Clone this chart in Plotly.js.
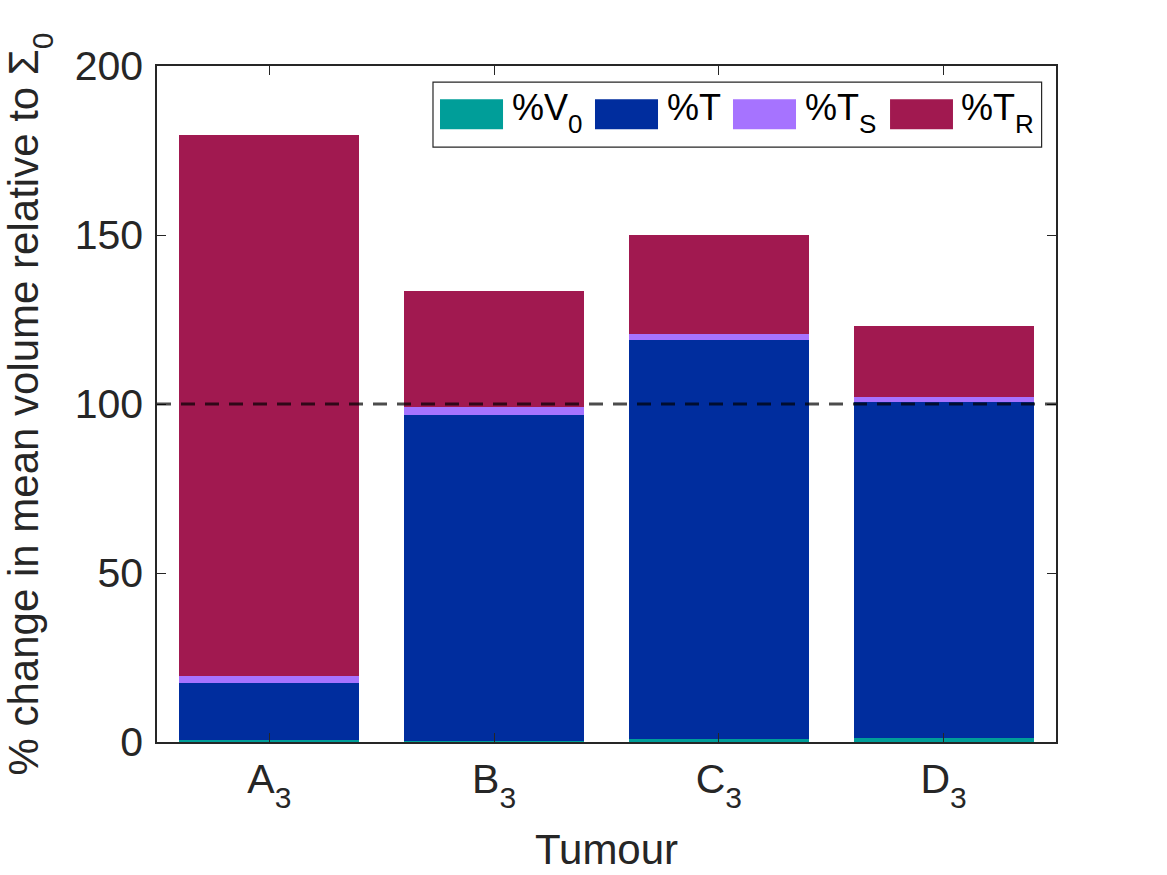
<!DOCTYPE html>
<html>
<head>
<meta charset="utf-8">
<script src="https://cdn.plot.ly/plotly-3.0.1.min.js"></script>
<style>
  html, body { margin: 0; padding: 0; background: #fff; }
  #chart { width: 1167px; height: 875px; }
</style>
</head>
<body>
<div id="chart"></div>
<script>
// deeper, larger subscript than plain <sub> (closer to the TeX look)
const sub = (s, px) => `<sub><sub><span style="font-size:${px}px">${s}</span></sub></sub>`;

// tumour labels on the x axis
const tumours = [1, 2, 3, 4];
const tumourLabels = ["A" + sub("3", 30), "B" + sub("3", 30), "C" + sub("3", 30), "D" + sub("3", 30)];

// stacked segments (% of Sigma_0), bottom to top
const pctV0 = [0.6, 0.4, 0.9, 1.2];
const pctT  = [16.8, 96.4, 117.9, 99.4];
const pctTS = [2.0, 2.3, 2.0, 1.5];
const pctTR = [160.2, 34.2, 29.1, 20.9];

const seriesNames = ["%V" + sub("0", 26), "%T", "%T" + sub("S", 26), "%T" + sub("R", 26)];
const seriesColors = ["rgb(0,158,153)", "rgb(0,45,158)", "rgb(166,115,255)", "rgb(161,25,80)"];

const refLevel = 100;
const yTicks = [0, 50, 100, 150, 200];

const fontFamily = "Liberation Sans, Arial, Helvetica, sans-serif";
const textColor = "#262626";

const makeBar = (y, idx) => {
    return {
        x: tumours,
        y: y,
        type: 'bar',
        name: seriesNames[idx],
        marker: { color: seriesColors[idx], line: { width: 0 } },
        hoverinfo: 'y'
    }
}

const data = [pctV0, pctT, pctTS, pctTR].map(makeBar);

// legend drawn by hand so the swatches are as big as in the original
const legendSwatchX = [[0.3148, 0.3849], [0.4872, 0.5573], [0.6407, 0.7108], [0.8154, 0.8854]];
const legendTextX = [0.393, 0.565, 0.719, 0.892];

const shapes = [
    {
        type: 'line', xref: 'paper', yref: 'y',
        x0: 0, x1: 1, y0: refLevel, y1: refLevel,
        line: { color: 'rgba(0,0,0,0.7)', width: 3, dash: '14px,10px' }
    },
    {
        type: 'rect', xref: 'paper', yref: 'paper',
        x0: 0.307, x1: 0.984, y0: 0.880, y1: 0.976,
        fillcolor: '#FFFFFF', line: { color: '#262626', width: 1.2 }
    }
];

const annotations = [];

seriesNames.forEach((name, i) => {
    shapes.push({
        type: 'rect', xref: 'paper', yref: 'paper',
        x0: legendSwatchX[i][0], x1: legendSwatchX[i][1], y0: 0.9065, y1: 0.9508,
        fillcolor: seriesColors[i], line: { width: 0 }
    });
    annotations.push({
        xref: 'paper', yref: 'paper',
        x: legendTextX[i], y: 0.972,
        xanchor: 'left', yanchor: 'top',
        text: name, showarrow: false,
        font: { family: fontFamily, size: 36, color: '#000000' }
    });
});

const layout = {
    width: 1167,
    height: 875,
    margin: { l: 157, r: 111, t: 66, b: 132.5 },
    paper_bgcolor: '#FFFFFF',
    plot_bgcolor: '#FFFFFF',
    barmode: 'stack',
    bargap: 0.2,
    showlegend: false,
    font: { family: fontFamily, color: textColor },
    xaxis: {
        range: [0.5, 4.5],
        tickvals: tumours,
        ticktext: tumourLabels,
        ticks: 'inside',
        ticklen: 9,
        tickwidth: 1.2,
        tickcolor: '#262626',
        showline: true,
        linecolor: '#262626',
        linewidth: 1.5,
        mirror: 'ticks',
        showgrid: false,
        zeroline: false,
        tickfont: { size: 41, color: textColor },
        title: { text: 'Tumour', font: { size: 42, color: textColor }, standoff: 22 }
    },
    yaxis: {
        range: [0, 200],
        tickvals: yTicks,
        ticks: 'inside',
        ticklen: 9,
        tickwidth: 1.2,
        tickcolor: '#262626',
        showline: true,
        linecolor: '#262626',
        linewidth: 1.5,
        mirror: 'ticks',
        showgrid: false,
        zeroline: false,
        ticklabelstandoff: 4,
        tickfont: { size: 41, color: textColor },
        title: {
            text: '% change in mean volume relative to \u03A3' + sub("0", 30),
            font: { size: 42, color: textColor },
            standoff: 26
        }
    },
    shapes: shapes,
    annotations: annotations
}

const config = { responsive: false, displayModeBar: false };

Plotly.newPlot('chart', data, layout, config);
</script>
</body>
</html>
